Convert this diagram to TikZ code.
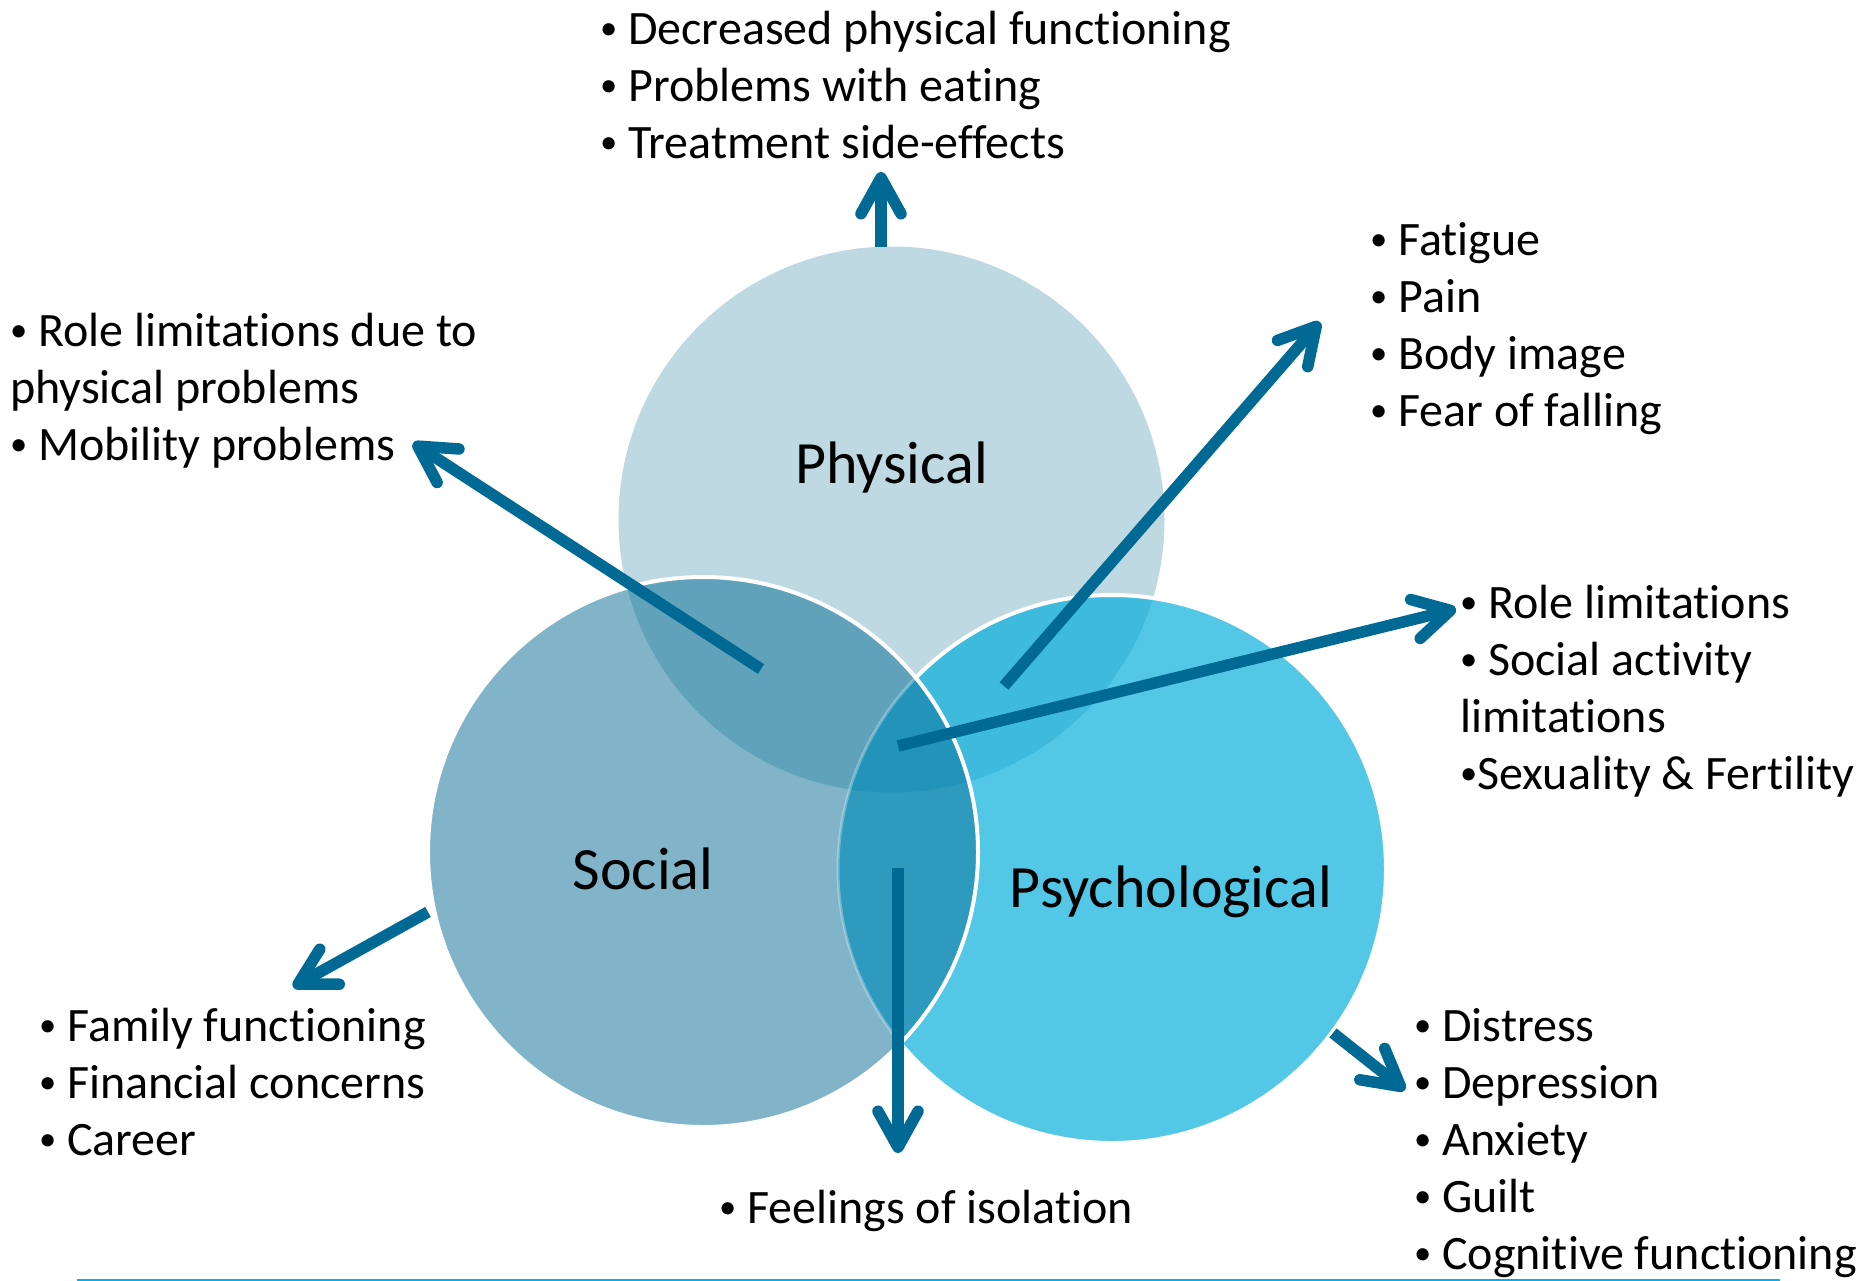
\documentclass[tikz,border=0pt]{standalone}
\usepackage{fontspec}
\usepackage{graphicx}
\setmainfont{Carlito}[Ligatures=NoCommon]
\usetikzlibrary{arrows.meta}
\definecolor{cP}{HTML}{BFD9E2}
\definecolor{cS}{HTML}{81B4C9}
\definecolor{cY}{HTML}{53C8E6}
\definecolor{cPS}{HTML}{61A2BB}
\definecolor{cPY}{HTML}{3DBADC}
\definecolor{cSY}{HTML}{2D9ABE}
\definecolor{cPSY}{HTML}{2294BA}
\definecolor{cA}{HTML}{006994}
\definecolor{cLine}{HTML}{00B0F0}
\newcommand\bul{\raisebox{0.1em}{\scalebox{0.72}{•}}}
\begin{document}
\begin{tikzpicture}[x=1pt,y=-1pt,
  arr/.style={line width=11.5pt, draw=cA, -{Straight Barb[length=36pt,width=40pt,round]}},
  lst/.style={anchor=north west, inner sep=0pt, align=left, font=\fontsize{48}{57}\selectfont},
  lbl/.style={anchor=base, inner sep=0pt, font=\fontsize{60}{72}\selectfont},
  rim/.style={draw=white, line width=4pt}]
\useasboundingbox[fill=white] (0,0) rectangle (1864,1281);
\def\circP{(891.5,519.5) circle[radius=273pt]}
\def\circS{(703,852) circle[radius=275pt]}
\def\circY{(1112,869) circle[radius=274pt]}
% physical
\fill[cP] \circP;
% psychological
\fill[cY] \circY;
\begin{scope}\clip \circY; \fill[cPY] \circP;\end{scope}
\draw[rim] \circY;
% social
\fill[cS] \circS;
\begin{scope}\clip \circS; \fill[cPS] \circP;
  \clip \circY; \fill[cSY] \circS; \clip \circP; \fill[cPSY] \circP;\end{scope}
\begin{scope}\clip \circS; \draw[draw=white, opacity=0.3, line width=3pt] \circY;\end{scope}
\draw[rim] \circS;
% labels
\node[lbl] (lP) at (891.5,483) {Physical};
\node[lbl] (lS) at (643,889) {Social};
\node[lbl] (lY) at (1171,907) {Psychological};
% text blocks
\node[lst] (tTop) at (600,4) {\strut\bul{} Decreased physical functioning\\\strut\bul{} Problems with eating\\\strut\bul{} Treatment side-effects};
\node[lst] (tLeft) at (10,306) {\strut\bul{} Role limitations due to\\\strut physical problems\\\strut\bul{} Mobility problems};
\node[lst] (tRT) at (1370,215) {\strut\bul{} Fatigue\\\strut\bul{} Pain\\\strut\bul{} Body image\\\strut\bul{} Fear of falling};
\node[lst] (tRM) at (1460,578) {\strut\bul{} Role limitations\\\strut\bul{} Social activity\\\strut limitations\\\strut\bul{}Sexuality \& Fertility};
\node[lst] (tBL) at (39,1001) {\strut\bul{} Family functioning\\\strut\bul{} Financial concerns\\\strut\bul{} Career};
\node[lst] (tBC) at (719,1183) {\strut\bul{} Feelings of isolation};
\node[lst] (tBR) at (1414,1001) {\strut\bul{} Distress\\\strut\bul{} Depression\\\strut\bul{} Anxiety\\\strut\bul{} Guilt\\\strut\bul{} Cognitive functioning};
% arrow coordinates
\coordinate (a1s) at (881,247);  \coordinate (a1e) at (881,172);
\coordinate (a2s) at (761,669);  \coordinate (a2e) at (413,443);
\coordinate (a3s) at (1004,686); \coordinate (a3e) at (1320,322);
\coordinate (a4s) at (898,746);  \coordinate (a4e) at (1456,609);
\coordinate (a5s) at (428,912);  \coordinate (a5e) at (293,987);
\coordinate (a6s) at (898,868);  \coordinate (a6e) at (898,1153);
\coordinate (a7s) at (1333,1033);\coordinate (a7e) at (1405,1090);
\draw[arr] (a1s) -- (a1e);
\draw[arr] (a2s) -- (a2e);
\draw[arr] (a3s) -- (a3e);
\draw[arr] (a4s) -- (a4e);
\draw[arr] (a5s) -- (a5e);
\draw[arr] (a6s) -- (a6e);
\draw[arr] (a7s) -- (a7e);
% bottom rule
\coordinate (r1) at (77,1279.5); \coordinate (r2) at (1780,1279.5);
\draw[cLine, line width=2pt] (r1) -- (r2);
\end{tikzpicture}
\end{document}
